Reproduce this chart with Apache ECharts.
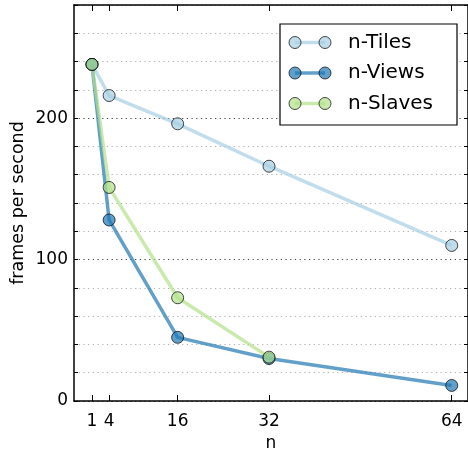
<!DOCTYPE html>
<html>
<head>
<meta charset="utf-8">
<script src="https://cdn.jsdelivr.net/npm/echarts@6/dist/echarts.min.js"></script>
<style>html,body{margin:0;padding:0;background:#fff}#c{width:468px;height:454px}</style>
</head>
<body>
<div id="c"></div>
<script>
var nValues = [1, 4, 16, 32, 64];
var tilesFps = [238, 216, 196, 166, 110];
var viewsFps = [238, 128, 45, 30, 11];
var slavesFps = [238, 151, 73, 31];
var seriesNames = ['n-Tiles', 'n-Views', 'n-Slaves'];
var yTickLabels = [0, 100, 200];

var colors = ['#a6cee3', '#1f78b4', '#b2df8a'];
var FONT = 'DejaVu Sans';

function pairs(vals) { return vals.map(function (v, i) { return [nValues[i], v]; }); }

function mkSeries(name, vals, color) {
  return {
    name: name, type: 'line', data: pairs(vals),
    symbol: 'circle', symbolSize: 12,
    lineStyle: { color: color, width: 3.5, opacity: 0.7 },
    itemStyle: { color: color, borderColor: '#000', borderWidth: 1, opacity: 0.7 },
    emphasis: { disabled: true }, animation: false
  };
}

var chart = echarts.init(document.getElementById('c'), null, { renderer: 'canvas' });

var legendG = [{
  type: 'rect', shape: { x: 280, y: 24, width: 177, height: 101 },
  style: { fill: '#fff', stroke: '#000', lineWidth: 1.2 }, z: 100
}];
var rowsY = [42.5, 73, 103.5];
seriesNames.forEach(function (nm, i) {
  var y = rowsY[i];
  legendG.push({ type: 'line', shape: { x1: 295, y1: y, x2: 325, y2: y },
    style: { stroke: colors[i], lineWidth: 3.5, opacity: 0.7 }, z: 101 });
  [295, 325].forEach(function (cx) {
    legendG.push({ type: 'circle', shape: { cx: cx, cy: y, r: 6 },
      style: { fill: colors[i], stroke: '#000', lineWidth: 1, opacity: 0.7 }, z: 102 });
  });
  legendG.push({ type: 'text', x: 348, y: y,
    style: { text: nm, font: '20px "DejaVu Sans"', fill: '#000', verticalAlign: 'middle', align: 'left' }, z: 103 });
});

var minorC = '#b0b0b0', majorC = '#404040';
var option = {
  backgroundColor: '#fff',
  animation: false,
  grid: { left: 74, right: 0, top: 5, bottom: 53, containLabel: false, outerBoundsMode: 'none' },
  xAxis: [{
    type: 'value', min: -2.15, max: 66.85, position: 'bottom',
    name: 'n', nameLocation: 'middle', nameGap: 34, nameMoveOverlap: false,
    nameTextStyle: { fontFamily: FONT, fontSize: 17, color: '#000' },
    axisLine: { onZero: false, lineStyle: { color: '#000', width: 1.5 } },
    axisTick: { inside: true, length: 6, customValues: nValues, lineStyle: { color: '#000', width: 1 } },
    axisLabel: { customValues: nValues, fontFamily: FONT, fontSize: 17, color: '#000', margin: 12 },
    splitLine: { show: false }
  }, {
    type: 'value', min: -2.15, max: 66.85, position: 'top',
    axisLine: { onZero: false, lineStyle: { color: '#000', width: 1.5 } },
    axisTick: { inside: true, length: 6, customValues: nValues, lineStyle: { color: '#000', width: 1 } },
    axisLabel: { show: false },
    splitLine: { show: false }
  }],
  yAxis: [{
    type: 'value', min: 0, max: 280, interval: 20, position: 'left',
    name: 'frames per second', nameLocation: 'middle', nameGap: 47, nameMoveOverlap: false,
    nameTextStyle: { fontFamily: FONT, fontSize: 17.5, color: '#000' },
    axisLine: { show: true, onZero: false, lineStyle: { color: '#000', width: 1.5 } },
    axisTick: { inside: true, length: 4, lineStyle: { color: '#000', width: 1 } },
    axisLabel: {
      fontFamily: FONT, fontSize: 17, color: '#000', margin: 6,
      formatter: function (v) { return yTickLabels.indexOf(v) >= 0 ? String(v) : ''; }
    },
    splitLine: { show: true, lineStyle: {
      color: [majorC, minorC, minorC, minorC, minorC], width: 1.2, type: [1.2, 3.5] } }
  }, {
    type: 'value', min: 0, max: 280, interval: 20, position: 'right',
    axisLine: { show: true, onZero: false, lineStyle: { color: '#000', width: 1.5 } },
    axisTick: { inside: true, length: 4, lineStyle: { color: '#000', width: 1 } },
    axisLabel: { show: false },
    splitLine: { show: false }
  }],
  series: [
    mkSeries(seriesNames[0], tilesFps, colors[0]),
    mkSeries(seriesNames[1], viewsFps, colors[1]),
    mkSeries(seriesNames[2], slavesFps, colors[2])
  ],
  graphic: legendG
};
chart.setOption(option);
</script>
</body>
</html>
